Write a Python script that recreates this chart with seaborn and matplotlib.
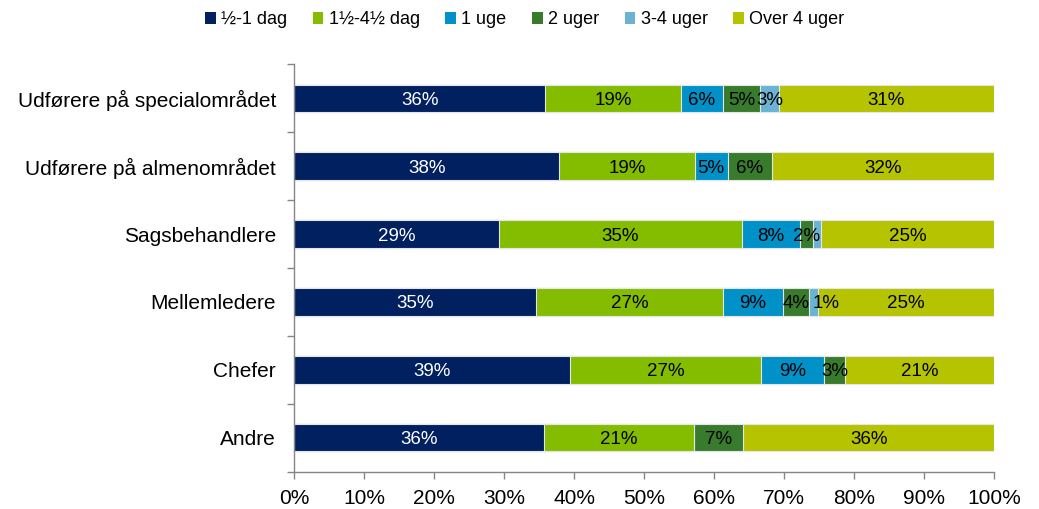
import numpy as np
import pandas as pd
import matplotlib
matplotlib.use("Agg")
import matplotlib.pyplot as plt
from matplotlib.patches import Patch
import seaborn as sns

# --- data (percent of respondents) ---
categories = ["Udførere på specialområdet", "Udførere på almenområdet", "Sagsbehandlere",
              "Mellemledere", "Chefer", "Andre"]
series_names = ["½-1 dag", "1½-4½ dag", "1 uge", "2 uger", "3-4 uger", "Over 4 uger"]

half_to_one_day = [35.9, 37.9, 29.2, 34.6, 39.4, 35.7]
one_to_four_days = [19.3, 19.3, 34.7, 26.6, 27.3, 21.4]
one_week = [6.1, 4.7, 8.4, 8.6, 9.0, 0.0]
two_weeks = [5.3, 6.3, 1.8, 3.8, 3.0, 7.0]
three_four_weeks = [2.6, 0.0, 1.1, 1.2, 0.0, 0.0]
over_four_weeks = [30.8, 31.8, 24.8, 25.2, 21.3, 35.9]

colors = ["#00205F", "#84BC00", "#0091C8", "#387B2C", "#6AB3D2", "#B5C300"]
x_ticks = list(range(0, 101, 10))

# labels that are not shown in the original (row, series)
hidden_labels = {(2, 4)}
# small manual nudge of a label (in percent points)
label_nudge = {(3, 4): 1.8}

sns.set_style("white")
plt.rcParams["font.family"] = ["Liberation Sans", "DejaVu Sans"]

df = pd.DataFrame(
    [half_to_one_day, one_to_four_days, one_week, two_weeks, three_four_weeks, over_four_weeks],
    index=series_names, columns=categories,
).T
cum = df.cumsum(axis=1)

fig = plt.figure(figsize=(10.39, 5.09), dpi=100)
ax = fig.add_axes([0.283, 0.073, 0.674, 0.801])

# draw cumulative bars from the longest to the shortest so they stack
for i in reversed(range(len(series_names))):
    name = series_names[i]
    sns.barplot(x=cum[name].values, y=categories, orient="h", color=colors[i],
                width=0.4, edgecolor="#e6e6e6", linewidth=0.8, saturation=1, ax=ax)

# segment labels
for r, cat in enumerate(categories):
    for i, name in enumerate(series_names):
        v = df.loc[cat, name]
        if v <= 0 or (r, i) in hidden_labels:
            continue
        xc = cum.loc[cat, name] - v / 2 + label_nudge.get((r, i), 0)
        ax.text(xc, r, f"{v:.0f}%", ha="center", va="center_baseline", fontsize=13.5,
                color="white" if i == 0 else "black")

ax.set_xlim(0, 100)
ax.set_ylim(len(categories) - 0.5, -0.5)
ax.set_xticks(x_ticks)
ax.set_xticklabels([f"{t}%" for t in x_ticks], fontsize=15, color="black")
ax.set_yticks(range(len(categories)))
ax.set_yticklabels(categories, fontsize=15, color="black")
ax.set_yticks(np.arange(-0.5, len(categories), 1), minor=True)
ax.tick_params(axis="y", which="major", left=False, length=0, pad=13)
ax.tick_params(axis="y", which="minor", left=True, length=5, color="#868686", width=1)
ax.tick_params(axis="x", which="major", bottom=True, length=5, color="#868686", width=1,
               direction="out", pad=7)
ax.set_xlabel("")
ax.set_ylabel("")

for side in ["top", "right"]:
    ax.spines[side].set_visible(False)
for side in ["left", "bottom"]:
    ax.spines[side].set_color("#868686")
    ax.spines[side].set_linewidth(1)

handles = [Patch(facecolor=c, edgecolor="none") for c in colors]
fig.legend(handles, series_names, loc="upper center", bbox_to_anchor=(0.505, 1.01),
           ncol=6, frameon=False, fontsize=13, handlelength=0.6, handleheight=0.6,
           handletextpad=0.3, columnspacing=1.4, labelcolor="black")

fig.savefig("out.png", dpi=100)
